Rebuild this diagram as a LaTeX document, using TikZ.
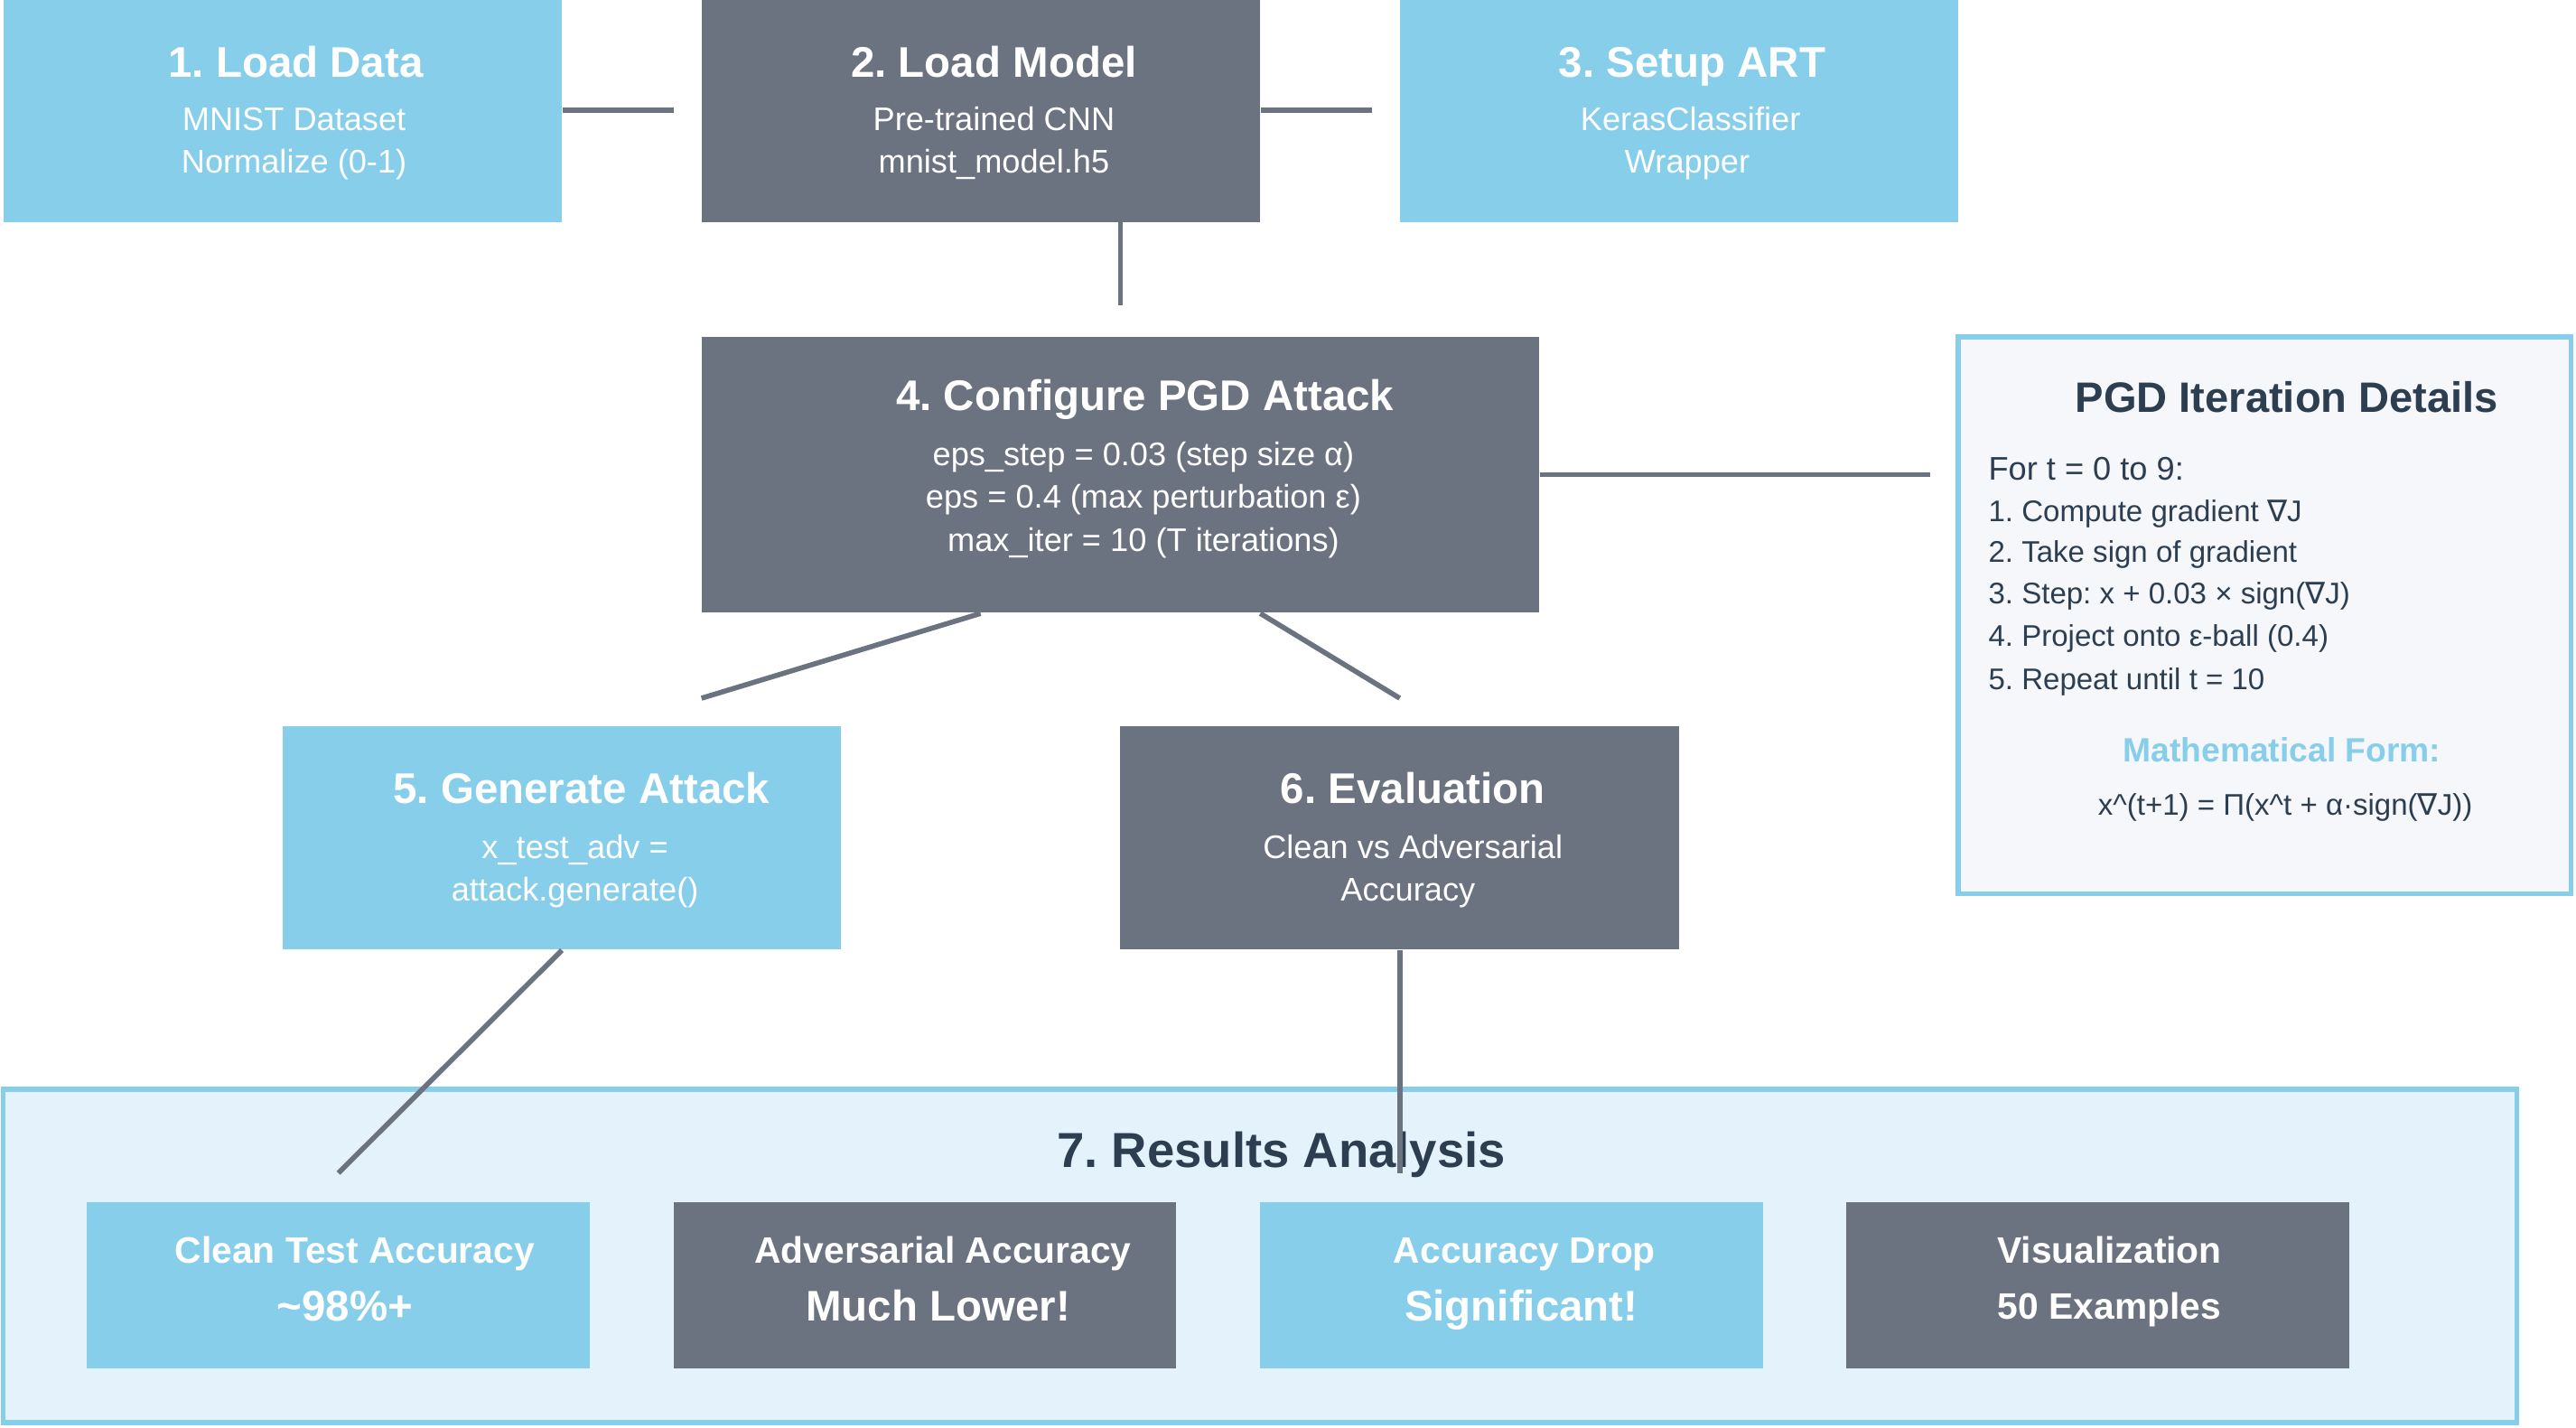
\documentclass[tikz,border=0pt]{standalone}
\usepackage{fontspec}
\setmainfont{Liberation Sans}
\newfontfamily\dv{DejaVu Sans}
\usetikzlibrary{fit,calc}
\frenchspacing
\definecolor{sky}{HTML}{87CEEB}
\definecolor{slate}{HTML}{6B7280}
\definecolor{ink}{HTML}{2C3E50}
\definecolor{pgdfill}{HTML}{F5F7FA}
\definecolor{resfill}{HTML}{E4F2FC}
\tikzset{
  boxsky/.style={fit={#1}, inner sep=0pt, fill=sky, draw=none},
  boxslate/.style={fit={#1}, inner sep=0pt, fill=slate, draw=none},
  panel/.style={inner sep=0pt, draw=sky, line width=1.6pt},
  txt/.style={inner sep=0pt, anchor=base},
  ttl/.style={txt, text=white, font=\fontsize{13.5}{16}\selectfont\bfseries},
  sub/.style={txt, text=white, font=\fontsize{10.3}{12}\selectfont},
  restl/.style={txt, text=white, font=\fontsize{11.6}{14}\selectfont\bfseries},
  resbig/.style={txt, text=white, font=\fontsize{13.5}{16}\selectfont\bfseries},
  pgdl/.style={inner sep=0pt, anchor=base west, text=ink, font=\fontsize{9.4}{12}\selectfont},
  link/.style={draw=slate, line width=1.6pt},
}
\begin{document}
\begin{tikzpicture}[x=0.01819cm,y=-0.01819cm]
\useasboundingbox (0,0) rectangle (1568,869);
% top row
\node[boxsky={(2,-5) (342,135)}] (b1) {};
\node[boxslate={(427,-5) (767,135)}] (b2) {};
\node[boxsky={(852,-5) (1192,135)}] (b3) {};
\node[ttl] (b1t) at (180,47) {1. Load Data};
\node[sub] (b1a) at (179,79.5) {MNIST Dataset};
\node[sub] (b1b) at (179,105.5) {Normalize (0-1)};
\node[ttl] (b2t) at (605,47) {2. Load Model};
\node[sub] (b2a) at (605,79.5) {Pre-trained CNN};
\node[sub] (b2b) at (605,105.5) {mnist\_model.h5};
\node[ttl] (b3t) at (1030,47) {3. Setup ART};
\node[sub] (b3a) at (1029,79.5) {KerasClassifier};
\node[sub] (b3b) at (1027,105.5) {Wrapper};
% box 4
\node[boxslate={(427,205) (937,373)}] (b4) {};
\node[ttl] (b4t) at (697,250) {4. Configure PGD Attack};
\node[sub] (b4a) at (696,283.5) {eps\_step = 0.03 (step size α)};
\node[sub] (b4b) at (696,309.5) {eps = 0.4 (max perturbation ε)};
\node[sub] (b4c) at (696,335.5) {max\_iter = 10 (T iterations)};
% PGD details panel
\node[panel, fill=pgdfill, fit={(1192,205) (1565,544)}] (pgd) {};
\node[txt, text=ink, font=\fontsize{13.4}{16}\selectfont\bfseries] (pgdt) at (1392,251) {PGD Iteration Details};
\node[pgdl, font=\fontsize{10.3}{12}\selectfont] (p0) at (1210,292) {For t = 0 to 9:};
\node[pgdl] (p1) at (1210,317.5) {1. Compute gradient {\dv ∇}J};
\node[pgdl] (p2) at (1210,342.5) {2. Take sign of gradient};
\node[pgdl] (p3) at (1210,367.5) {3. Step: x + 0.03 × sign({\dv ∇}J)};
\node[pgdl] (p4) at (1210,393.5) {4. Project onto ε-ball (0.4)};
\node[pgdl] (p5) at (1210,419.5) {5. Repeat until t = 10};
\node[txt, text=sky, font=\fontsize{10.6}{13}\selectfont\bfseries] (mf) at (1389,463.5) {Mathematical Form:};
\node[txt, text=ink, font=\fontsize{9.4}{12}\selectfont] (mfx) at (1391,496) {x\textasciicircum(t+1) = Π(x\textasciicircum t + α·sign({\dv ∇}J))};
% boxes 5 and 6
\node[boxsky={(172,442) (512,578)}] (b5) {};
\node[boxslate={(682,442) (1022,578)}] (b6) {};
\node[ttl] (b5t) at (354,489) {5. Generate Attack};
\node[sub] (b5a) at (350,522.5) {x\_test\_adv =};
\node[sub] (b5b) at (350,548.5) {attack.generate()};
\node[ttl] (b6t) at (860,489) {6. Evaluation};
\node[sub] (b6a) at (860,522.5) {Clean vs Adversarial};
\node[sub] (b6b) at (857,548.5) {Accuracy};
% results panel
\node[panel, fill=resfill, fit={(2,663) (1532,866)}] (res) {};
\node[txt, text=ink, font=\fontsize{15.5}{18}\selectfont\bfseries] (rest) at (780,710.5) {7. Results Analysis};
\node[boxsky={(53,732) (359,833)}] (r1) {};
\node[boxslate={(410,732) (716,833)}] (r2) {};
\node[boxsky={(767,732) (1073,833)}] (r3) {};
\node[boxslate={(1124,732) (1430,833)}] (r4) {};
\node[restl] (r1a) at (216,769) {Clean Test Accuracy};
\node[resbig] (r1b) at (210,804) {\textasciitilde98\%+};
\node[restl] (r2a) at (574,769) {Adversarial Accuracy};
\node[resbig] (r2b) at (571,804) {Much Lower!};
\node[restl] (r3a) at (928,769) {Accuracy Drop};
\node[resbig] (r3b) at (926,804) {Significant!};
\node[restl] (r4a) at (1284,769) {Visualization};
\node[restl] (r4b) at (1284,803) {50 Examples};
% free ends of connectors
\coordinate (e12) at (410,67);
\coordinate (e23) at (835,67);
\coordinate (e24) at (682,186);
\coordinate (e4p) at (1175,289);
\coordinate (e45) at (427,425);
\coordinate (e46) at (852,425);
\coordinate (e57) at (206,714);
\coordinate (e67) at (852,714);
% connectors
\draw[link] (b1.east |- e12) -- (e12);
\draw[link] (b2.east |- e23) -- (e23);
\draw[link] (e24 |- b2.south) -- (e24);
\draw[link] (b4.east |- e4p) -- (e4p);
\draw[link] ($(b4.south west)!1/3!(b4.south east)$) -- (e45);
\draw[link] ($(b4.south west)!2/3!(b4.south east)$) -- (e46);
\draw[link] (b5.south) -- (e57);
\draw[link] (b6.south) -- (e67);
\end{tikzpicture}
\end{document}
